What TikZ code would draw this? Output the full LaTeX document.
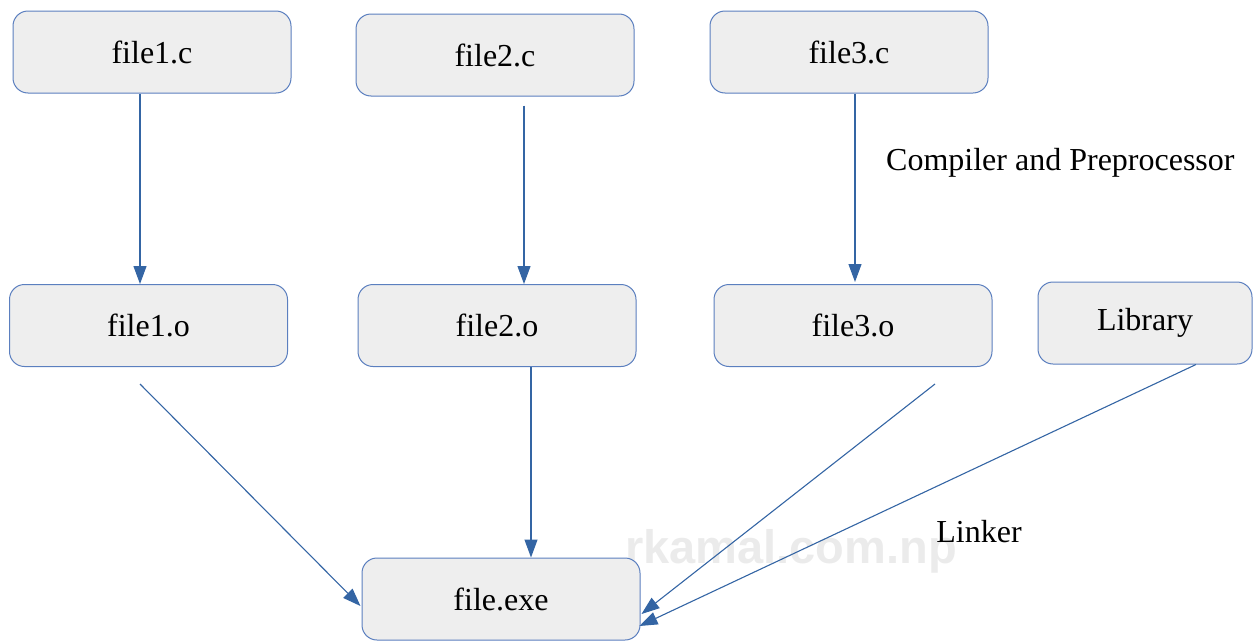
\documentclass[tikz,border=0pt]{standalone}
\usepackage{fontspec}
\setmainfont{Liberation Serif}
\newfontfamily\markfont{Liberation Sans}
\usetikzlibrary{arrows.meta}
\definecolor{boxfill}{HTML}{EEEEEE}
\definecolor{boxline}{HTML}{5B7FBF}
\definecolor{arrowblue}{HTML}{3465A4}
\definecolor{markgray}{HTML}{EBEBEB}
\begin{document}
\begin{tikzpicture}[x=1pt,y=-1pt,
  filebox/.style={draw=boxline, line width=1pt, fill=boxfill, rounded corners=15pt,
    minimum width=278pt, minimum height=82pt, inner sep=0pt,
    font=\fontsize{32}{36}\selectfont},
  flow/.style={draw=arrowblue, line width=1.1pt, -{Triangle[length=18pt,width=13pt]}},
  caption/.style={font=\fontsize{32}{36}\selectfont, inner sep=0pt}]
\useasboundingbox (0,0) rectangle (1253,640);

% watermark
\node[text=markgray, font=\markfont\bfseries\fontsize{47}{50}\selectfont, inner sep=0pt]
  (mark) at (791,551) {rkamal.com.np};

% sources
\node[filebox] (f1c) at (152,52) {file1.c};
\node[filebox] (f2c) at (495,55) {file2.c};
\node[filebox] (f3c) at (849,52) {file3.c};

% objects
\node[filebox] (f1o) at (148.5,325.5) {file1.o};
\node[filebox] (f2o) at (497,325.5) {file2.o};
\node[filebox] (f3o) at (853,325.5) {file3.o};
\node[filebox, minimum width=214pt] (lib) at (1145,323) {Library};

% executable
\node[filebox] (exe) at (501,599) {file.exe};

% labels
\node[caption, anchor=west] (cpp) at (886,163) {Compiler and Preprocessor};
\node[caption] (lnk) at (979,532) {Linker};

% compile step
\draw[flow] ([xshift=-12pt]f1c.south) -- ([xshift=-8.5pt]f1o.north);
\draw[flow] ([xshift=29pt,yshift=-9pt]f2c.south) -- ([xshift=27pt]f2o.north);
\draw[flow] ([xshift=6pt]f3c.south) -- ([xshift=2pt,yshift=2pt]f3o.north);

% link step
\draw[flow] ([xshift=-8.5pt,yshift=-17pt]f1o.south) -- ([xshift=-1pt,yshift=-7pt]exe.west);
\draw[flow] ([xshift=34pt]f2o.south) -- ([xshift=30pt]exe.north);
\draw[flow] ([xshift=82pt,yshift=-17pt]f3o.south) -- ([xshift=1pt,yshift=-15pt]exe.east);
\draw[flow] ([xshift=51pt]lib.south) -- ([xshift=-1pt,yshift=-27pt]exe.east);
\end{tikzpicture}
\end{document}
